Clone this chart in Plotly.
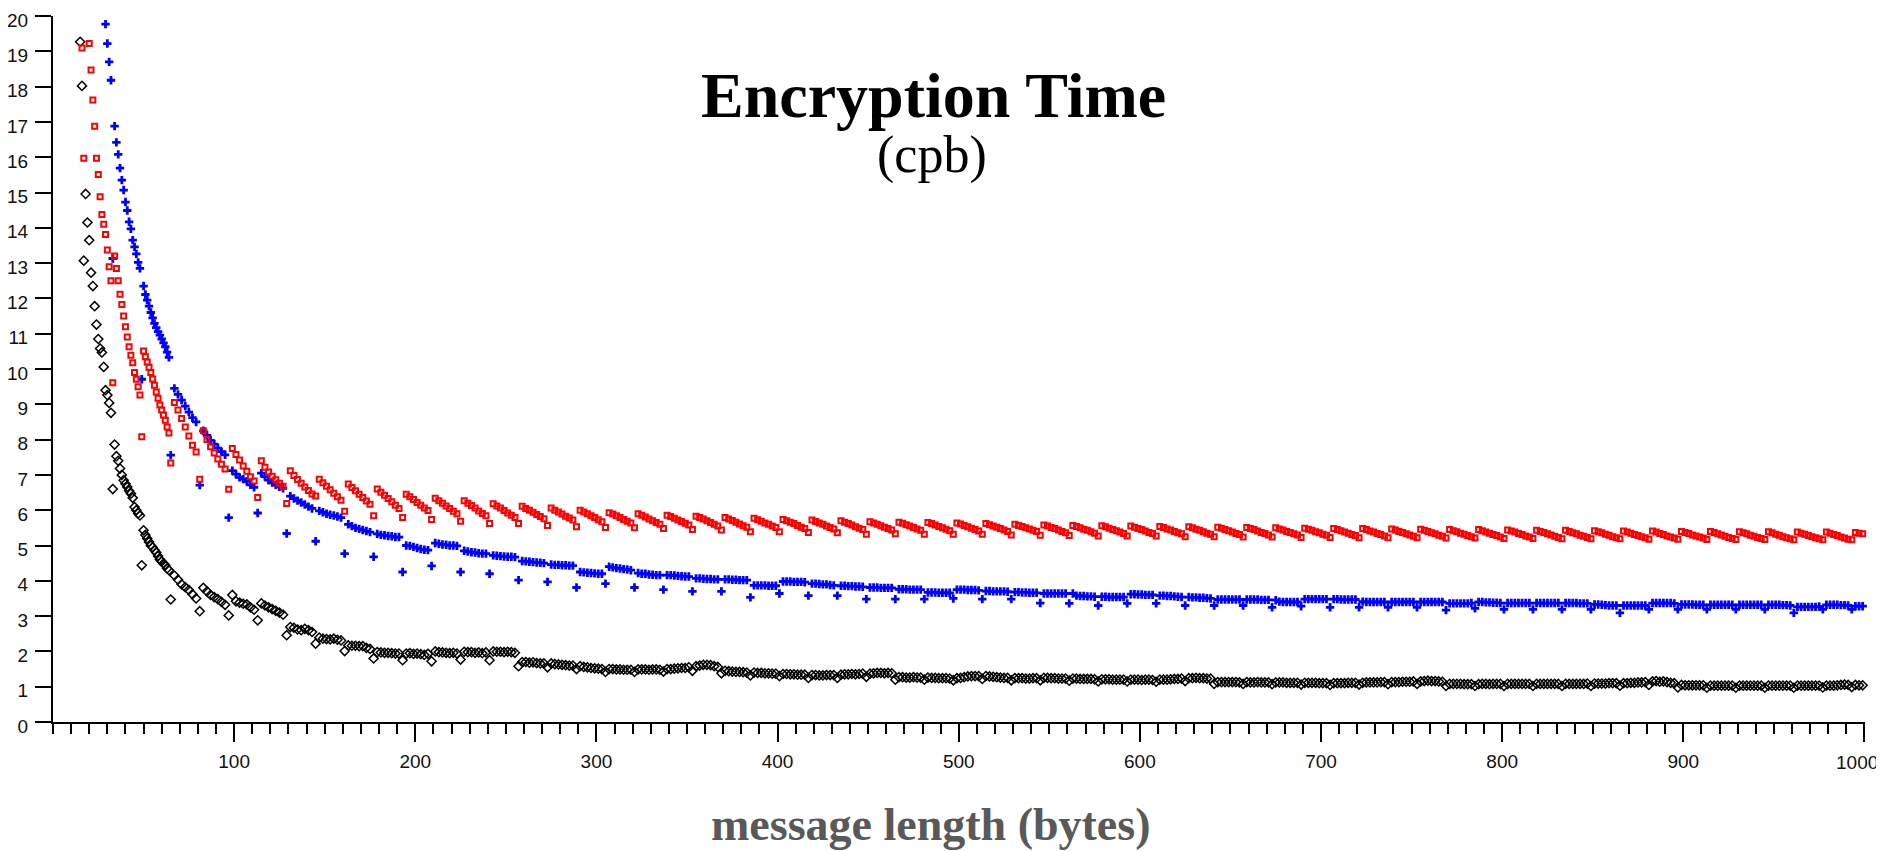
import plotly.graph_objects as go

# ---------------- data ----------------
# message lengths: every byte from 15 to 64, then odd bytes 65..999
len_early = list(range(15, 65))
len_late = list(range(65, 1000, 2))

N = None
red_early = [N, 19.09, 15.97, N, N, 19.22, 18.47, 17.62, 16.88, 15.97,
             15.51, 14.88, 14.38, 14.1, 13.81, 13.37, 12.9, 12.5, 9.61, 13.2,
             12.85, 12.5, 12.12, 11.83, 11.5, 11.2, 10.91, 10.63, 10.39, 10.18,
             9.9, 9.71, 9.5, 9.26, 8.08, 10.51, 10.35, 10.2, 10.05, 9.9,
             9.72, 9.54, 9.35, 9.17, 8.98, 8.84, 8.7, 8.55, 8.36, 8.19]
blue_early = [N, N, N, N, N, N, N, N, N, N,
              N, N, N, N, 19.77, 19.22, 18.7, 18.18, 13.13, 16.88,
              16.42, 16.08, 15.69, 15.35, 15.07, 14.73, 14.49, 14.17, 13.97, 13.65,
              13.46, 13.26, 13.02, 12.85, 9.71, 12.35, 12.11, 11.95, 11.78, 11.6,
              11.45, 11.29, 11.17, 11.06, 10.96, 10.85, 10.74, 10.63, 10.48, 10.33]
black_early = [19.27, 18.02, 13.07, 14.96, 14.15, 13.65, 12.73, 12.35, 11.78, 11.26,
               10.85, 10.58, 10.47, 10.06, 9.4, 9.26, 9.04, 8.76, 6.6, 7.86,
               7.53, 7.4, 7.18, 7.0, 6.85, 6.75, 6.66, 6.55, 6.47, 6.35,
               6.09, 6.0, 5.91, 5.85, 4.44, 5.43, 5.3, 5.2, 5.1, 5.0,
               4.95, 4.87, 4.8, 4.7, 4.6, 4.55, 4.49, 4.44, 4.35, 4.3]

# one row per 16-byte block: value at 16k+1 (dip), then 16k+3 ... 16k+15
red_blocks = [
    [7.34, 9.05, 8.84, 8.6, 8.36, 8.1, 7.84, 7.65],
    [6.88, 8.25, 8.0, 7.8, 7.62, 7.45, 7.3, 7.17],
    [6.59, 7.75, 7.58, 7.42, 7.25, 7.1, 6.95, 6.83],
    [6.36, 7.4, 7.22, 7.08, 6.96, 6.86, 6.76, 6.68],
    [6.19, 7.12, 6.98, 6.87, 6.76, 6.66, 6.56, 6.46],
    [6.4, 6.88, 6.78, 6.68, 6.58, 6.48, 6.38, 6.28],
    [5.97, 6.74, 6.64, 6.55, 6.45, 6.36, 6.26, 6.17],
    [5.84, 6.6, 6.51, 6.42, 6.33, 6.24, 6.14, 6.05],
    [5.79, 6.45, 6.38, 6.3, 6.22, 6.14, 6.06, 5.99],
    [5.74, 6.34, 6.27, 6.2, 6.12, 6.05, 5.97, 5.9],
    [5.69, 6.27, 6.2, 6.13, 6.06, 5.98, 5.91, 5.84],
    [5.62, 6.18, 6.12, 6.06, 5.99, 5.92, 5.86, 5.79],
    [5.62, 6.11, 6.05, 6.0, 5.94, 5.88, 5.82, 5.76],
    [5.57, 6.06, 6.0, 5.95, 5.89, 5.83, 5.78, 5.72],
    [5.53, 6.0, 5.95, 5.9, 5.84, 5.79, 5.73, 5.67],
    [5.51, 5.93, 5.89, 5.84, 5.79, 5.74, 5.69, 5.64],
    [5.5, 5.9, 5.86, 5.81, 5.75, 5.7, 5.65, 5.6],
    [5.48, 5.86, 5.82, 5.77, 5.72, 5.68, 5.63, 5.58],
    [5.45, 5.83, 5.79, 5.75, 5.7, 5.65, 5.6, 5.55],
    [5.44, 5.79, 5.75, 5.71, 5.66, 5.61, 5.56, 5.52],
    [5.39, 5.77, 5.73, 5.69, 5.64, 5.6, 5.55, 5.51],
    [5.39, 5.74, 5.7, 5.66, 5.62, 5.57, 5.52, 5.48],
    [5.37, 5.72, 5.68, 5.64, 5.6, 5.55, 5.51, 5.47],
    [5.36, 5.7, 5.66, 5.62, 5.58, 5.53, 5.49, 5.45],
    [5.32, 5.67, 5.64, 5.6, 5.56, 5.52, 5.48, 5.44],
    [5.33, 5.66, 5.63, 5.59, 5.55, 5.51, 5.47, 5.43],
    [5.32, 5.65, 5.62, 5.58, 5.54, 5.5, 5.46, 5.42],
    [5.32, 5.64, 5.61, 5.57, 5.53, 5.49, 5.45, 5.41],
    [5.32, 5.62, 5.59, 5.55, 5.52, 5.48, 5.44, 5.4],
    [5.3, 5.6, 5.57, 5.54, 5.5, 5.47, 5.43, 5.4],
    [5.29, 5.58, 5.55, 5.51, 5.48, 5.44, 5.4, 5.36],
    [5.28, 5.57, 5.54, 5.5, 5.46, 5.43, 5.39, 5.35],
    [5.27, 5.56, 5.53, 5.49, 5.45, 5.42, 5.38, 5.34],
    [5.27, 5.55, 5.52, 5.48, 5.45, 5.41, 5.37, 5.34],
    [5.27, 5.54, 5.51, 5.47, 5.44, 5.4, 5.36, 5.33],
    [5.25, 5.53, 5.5, 5.46, 5.43, 5.39, 5.35, 5.32],
    [5.25, 5.52, 5.49, 5.45, 5.42, 5.38, 5.34, 5.31],
    [5.24, 5.51, 5.48, 5.45, 5.41, 5.37, 5.34, 5.3],
    [5.24, 5.5, 5.47, 5.44, 5.4, 5.37, 5.33, 5.3],
    [5.23, 5.49, 5.46, 5.43, 5.39, 5.36, 5.32, 5.29],
    [5.23, 5.48, 5.45, 5.42, 5.38, 5.35, 5.31, 5.28],
    [5.22, 5.48, 5.45, 5.41, 5.38, 5.34, 5.31, 5.27],
    [5.22, 5.47, 5.44, 5.4, 5.37, 5.33, 5.3, 5.26],
    [5.22, 5.46, 5.43, 5.4, 5.36, 5.33, 5.29, 5.26],
    [5.21, 5.45, 5.42, 5.39, 5.35, 5.32, 5.28, 5.25],
    [5.21, 5.45, 5.42, 5.38, 5.35, 5.31, 5.28, 5.24],
    [5.2, 5.44, 5.41, 5.38, 5.34, 5.31, 5.27, 5.24],
    [5.2, 5.43, 5.4, 5.37, 5.33, 5.3, 5.26, 5.23],
    [5.19, 5.43, 5.4, 5.36, 5.33, 5.29, 5.26, 5.23],
    [5.19, 5.42, 5.39, 5.36, 5.32, 5.29, 5.25, 5.22],
    [5.19, 5.41, 5.38, 5.35, 5.31, 5.28, 5.25, 5.22],
    [5.18, 5.41, 5.38, 5.34, 5.31, 5.27, 5.24, 5.21],
    [5.18, 5.4, 5.37, 5.34, 5.3, 5.27, 5.24, 5.21],
    [5.17, 5.4, 5.37, 5.33, 5.3, 5.26, 5.23, 5.2],
    [5.17, 5.39, 5.36, 5.33, 5.29, 5.26, 5.23, 5.2],
    [5.17, 5.39, 5.36, 5.32, 5.29, 5.25, 5.22, 5.19],
    [5.16, 5.38, 5.35, 5.32, 5.28, 5.25, 5.22, 5.19],
    [5.16, 5.38, 5.35, 5.31, 5.28, 5.24, 5.21, 5.18],
    [5.16, 5.37, 5.35, 5.33],
]

blue_blocks = [
    [7.56, 9.45, 9.28, 9.12, 8.95, 8.78, 8.62, 8.5],
    [6.71, 8.25, 8.12, 7.98, 7.87, 7.76, 7.66, 7.57],
    [5.79, 7.12, 7.02, 6.93, 6.88, 6.82, 6.72, 6.65],
    [5.92, 7.05, 6.95, 6.85, 6.78, 6.72, 6.66, 6.62],
    [5.34, 6.4, 6.33, 6.27, 6.22, 6.16, 6.1, 6.05],
    [5.12, 5.98, 5.94, 5.9, 5.87, 5.85, 5.82, 5.79],
    [4.77, 5.6, 5.55, 5.5, 5.47, 5.44, 5.41, 5.38],
    [4.68, 5.33, 5.3, 5.29, 5.27, 5.26, 5.24, 5.24],
    [4.25, 5.0, 4.99, 4.96, 4.93, 4.9, 4.88, 4.87],
    [4.42, 5.07, 5.05, 5.03, 5.02, 5.0, 5.0, 4.99],
    [4.25, 4.85, 4.83, 4.81, 4.8, 4.78, 4.77, 4.77],
    [4.2, 4.72, 4.71, 4.7, 4.69, 4.68, 4.68, 4.67],
    [4.02, 4.56, 4.55, 4.54, 4.53, 4.52, 4.51, 4.5],
    [3.97, 4.46, 4.45, 4.45, 4.44, 4.44, 4.43, 4.43],
    [3.81, 4.25, 4.24, 4.23, 4.22, 4.21, 4.2, 4.2],
    [3.92, 4.4, 4.38, 4.36, 4.35, 4.33, 4.32, 4.3],
    [3.81, 4.22, 4.2, 4.2, 4.18, 4.17, 4.16, 4.16],
    [3.75, 4.16, 4.16, 4.15, 4.14, 4.13, 4.12, 4.12],
    [3.7, 4.07, 4.07, 4.06, 4.05, 4.05, 4.04, 4.04],
    [3.7, 4.04, 4.04, 4.03, 4.03, 4.02, 4.02, 4.02],
    [3.53, 3.87, 3.87, 3.87, 3.87, 3.86, 3.86, 3.86],
    [3.64, 3.98, 3.98, 3.98, 3.97, 3.97, 3.97, 3.96],
    [3.58, 3.92, 3.92, 3.91, 3.9, 3.9, 3.88, 3.87],
    [3.58, 3.86, 3.86, 3.85, 3.85, 3.84, 3.84, 3.83],
    [3.48, 3.81, 3.81, 3.81, 3.8, 3.8, 3.8, 3.8],
    [3.48, 3.76, 3.76, 3.76, 3.75, 3.75, 3.75, 3.75],
    [3.48, 3.67, 3.67, 3.67, 3.66, 3.66, 3.66, 3.66],
    [3.5, 3.75, 3.75, 3.75, 3.74, 3.74, 3.74, 3.73],
    [3.48, 3.71, 3.71, 3.7, 3.7, 3.7, 3.7, 3.69],
    [3.48, 3.68, 3.68, 3.67, 3.67, 3.66, 3.66, 3.66],
    [3.37, 3.64, 3.64, 3.64, 3.64, 3.64, 3.64, 3.64],
    [3.36, 3.64, 3.58, 3.57, 3.57, 3.56, 3.56, 3.55],
    [3.3, 3.55, 3.55, 3.54, 3.54, 3.54, 3.54, 3.54],
    [3.36, 3.62, 3.62, 3.61, 3.61, 3.6, 3.6, 3.6],
    [3.36, 3.58, 3.58, 3.57, 3.57, 3.56, 3.55, 3.54],
    [3.3, 3.54, 3.53, 3.53, 3.52, 3.52, 3.51, 3.5],
    [3.3, 3.47, 3.47, 3.47, 3.47, 3.47, 3.47, 3.47],
    [3.3, 3.47, 3.47, 3.47, 3.47, 3.46, 3.46, 3.46],
    [3.25, 3.45, 3.41, 3.4, 3.4, 3.4, 3.4, 3.4],
    [3.28, 3.48, 3.48, 3.48, 3.48, 3.48, 3.48, 3.48],
    [3.25, 3.48, 3.48, 3.47, 3.47, 3.47, 3.47, 3.47],
    [3.25, 3.41, 3.4, 3.4, 3.4, 3.4, 3.4, 3.4],
    [3.25, 3.4, 3.4, 3.4, 3.4, 3.4, 3.4, 3.4],
    [3.25, 3.4, 3.4, 3.4, 3.4, 3.4, 3.4, 3.4],
    [3.17, 3.36, 3.36, 3.36, 3.36, 3.36, 3.36, 3.37],
    [3.22, 3.4, 3.4, 3.39, 3.39, 3.38, 3.38, 3.37],
    [3.19, 3.37, 3.37, 3.37, 3.37, 3.37, 3.37, 3.37],
    [3.19, 3.37, 3.37, 3.37, 3.37, 3.37, 3.37, 3.37],
    [3.19, 3.37, 3.37, 3.37, 3.37, 3.36, 3.36, 3.36],
    [3.19, 3.33, 3.33, 3.32, 3.31, 3.3, 3.3, 3.3],
    [3.09, 3.3, 3.3, 3.3, 3.3, 3.3, 3.3, 3.3],
    [3.19, 3.37, 3.37, 3.37, 3.37, 3.37, 3.37, 3.36],
    [3.19, 3.33, 3.33, 3.33, 3.33, 3.32, 3.32, 3.32],
    [3.19, 3.32, 3.32, 3.32, 3.32, 3.32, 3.32, 3.32],
    [3.19, 3.32, 3.32, 3.32, 3.32, 3.32, 3.32, 3.32],
    [3.19, 3.32, 3.32, 3.32, 3.32, 3.31, 3.31, 3.3],
    [3.09, 3.26, 3.26, 3.26, 3.26, 3.26, 3.26, 3.27],
    [3.19, 3.32, 3.32, 3.32, 3.32, 3.31, 3.31, 3.3],
    [3.19, 3.28, 3.28, 3.28],
]

black_blocks = [
    [3.47, 4.15, 4.03, 3.9, 3.82, 3.74, 3.62, 3.5],
    [3.14, 3.8, 3.7, 3.6, 3.54, 3.48, 3.4, 3.32],
    [3.02, 3.6, 3.42, 3.38, 3.35, 3.33, 3.25, 3.18],
    [2.88, 3.36, 3.3, 3.25, 3.2, 3.15, 3.1, 3.04],
    [2.46, 2.69, 2.67, 2.62, 2.6, 2.64, 2.6, 2.55],
    [2.22, 2.39, 2.36, 2.35, 2.34, 2.36, 2.33, 2.31],
    [2.01, 2.17, 2.16, 2.16, 2.15, 2.15, 2.1, 2.07],
    [1.8, 1.98, 1.97, 1.96, 1.96, 1.95, 1.94, 1.94],
    [1.75, 1.94, 1.95, 1.93, 1.94, 1.92, 1.9, 1.93],
    [1.72, 2.0, 1.98, 1.97, 1.96, 1.95, 1.96, 1.94],
    [1.77, 1.99, 1.98, 1.98, 1.96, 1.97, 1.95, 1.97],
    [1.75, 2.0, 1.99, 1.99, 1.98, 1.99, 1.98, 1.96],
    [1.58, 1.7, 1.7, 1.68, 1.69, 1.67, 1.66, 1.66],
    [1.55, 1.66, 1.64, 1.63, 1.62, 1.61, 1.6, 1.6],
    [1.5, 1.58, 1.56, 1.55, 1.53, 1.52, 1.51, 1.5],
    [1.42, 1.5, 1.5, 1.49, 1.49, 1.48, 1.48, 1.48],
    [1.42, 1.49, 1.49, 1.49, 1.48, 1.49, 1.49, 1.48],
    [1.43, 1.5, 1.5, 1.51, 1.52, 1.53, 1.53, 1.55],
    [1.45, 1.58, 1.6, 1.62, 1.62, 1.61, 1.58, 1.56],
    [1.38, 1.45, 1.44, 1.43, 1.42, 1.42, 1.41, 1.4],
    [1.32, 1.4, 1.39, 1.39, 1.38, 1.38, 1.37, 1.37],
    [1.3, 1.36, 1.36, 1.35, 1.35, 1.34, 1.34, 1.34],
    [1.25, 1.33, 1.33, 1.32, 1.32, 1.33, 1.33, 1.33],
    [1.25, 1.34, 1.35, 1.35, 1.36, 1.35, 1.36, 1.37],
    [1.28, 1.37, 1.38, 1.39, 1.39, 1.38, 1.39, 1.38],
    [1.2, 1.27, 1.27, 1.26, 1.26, 1.27, 1.26, 1.26],
    [1.2, 1.26, 1.25, 1.25, 1.24, 1.24, 1.24, 1.23],
    [1.18, 1.24, 1.25, 1.27, 1.29, 1.3, 1.3, 1.3],
    [1.22, 1.3, 1.29, 1.28, 1.27, 1.26, 1.25, 1.25],
    [1.18, 1.24, 1.24, 1.24, 1.23, 1.23, 1.24, 1.24],
    [1.18, 1.25, 1.25, 1.24, 1.24, 1.23, 1.23, 1.23],
    [1.17, 1.23, 1.23, 1.22, 1.22, 1.22, 1.22, 1.21],
    [1.15, 1.21, 1.21, 1.21, 1.2, 1.2, 1.2, 1.2],
    [1.15, 1.2, 1.2, 1.2, 1.19, 1.2, 1.2, 1.19],
    [1.14, 1.2, 1.2, 1.2, 1.21, 1.22, 1.22, 1.23],
    [1.16, 1.24, 1.24, 1.25, 1.24, 1.24, 1.23, 1.23],
    [1.08, 1.13, 1.13, 1.13, 1.13, 1.13, 1.13, 1.12],
    [1.08, 1.13, 1.12, 1.12, 1.13, 1.12, 1.12, 1.12],
    [1.07, 1.12, 1.12, 1.12, 1.11, 1.11, 1.11, 1.11],
    [1.06, 1.11, 1.11, 1.11, 1.11, 1.1, 1.1, 1.1],
    [1.05, 1.1, 1.1, 1.1, 1.1, 1.11, 1.11, 1.11],
    [1.06, 1.11, 1.12, 1.12, 1.12, 1.12, 1.13, 1.13],
    [1.07, 1.13, 1.13, 1.13, 1.14, 1.14, 1.14, 1.15],
    [1.08, 1.15, 1.16, 1.17, 1.16, 1.16, 1.15, 1.14],
    [1.02, 1.08, 1.08, 1.08, 1.08, 1.07, 1.07, 1.07],
    [1.02, 1.07, 1.08, 1.08, 1.07, 1.08, 1.08, 1.08],
    [1.02, 1.08, 1.08, 1.08, 1.08, 1.08, 1.08, 1.08],
    [1.02, 1.08, 1.08, 1.08, 1.08, 1.08, 1.08, 1.08],
    [1.02, 1.08, 1.08, 1.08, 1.08, 1.08, 1.08, 1.09],
    [1.02, 1.09, 1.09, 1.09, 1.09, 1.1, 1.1, 1.1],
    [1.03, 1.1, 1.1, 1.11, 1.11, 1.12, 1.12, 1.13],
    [1.05, 1.15, 1.16, 1.14, 1.15, 1.13, 1.11, 1.1],
    [0.98, 1.05, 1.04, 1.04, 1.04, 1.04, 1.04, 1.04],
    [0.97, 1.03, 1.03, 1.03, 1.03, 1.03, 1.03, 1.03],
    [0.97, 1.03, 1.03, 1.03, 1.03, 1.03, 1.03, 1.03],
    [0.97, 1.03, 1.03, 1.03, 1.03, 1.03, 1.03, 1.03],
    [0.97, 1.03, 1.03, 1.03, 1.03, 1.03, 1.03, 1.03],
    [0.98, 1.03, 1.03, 1.03, 1.04, 1.05, 1.06, 1.05],
    [0.99, 1.05, 1.04, 1.04],
]

x_tick_vals = [100, 200, 300, 400, 500, 600, 700, 800, 900, 1000]
x_tick_text = ["100", "200", "300", "400", "500", "600", "700", "800", "900", ""]
last_x_label = "1000"   # drawn right-aligned so it is not cut at the window edge
y_tick_vals = list(range(0, 21))


def flatten(rows):
    return [v for row in rows for v in row]


msg_len = len_early + len_late
red_cpb = red_early + flatten(red_blocks)
blue_cpb = blue_early + flatten(blue_blocks)
black_cpb = black_early + flatten(black_blocks)
for s in (red_cpb, blue_cpb, black_cpb):
    assert len(s) == len(msg_len), (len(s), len(msg_len))

# ---------------- figure ----------------
fig = go.Figure()
fig.add_trace(go.Scatter(
    x=msg_len, y=black_cpb, mode="markers", cliponaxis=False,
    marker=dict(symbol="diamond-open", size=7, color="#000000",
                line=dict(width=1.5, color="#000000")),
    hoverinfo="x+y"))
fig.add_trace(go.Scatter(
    x=msg_len, y=blue_cpb, mode="markers", cliponaxis=False,
    marker=dict(symbol="cross", size=7, color="#0000FF",
                line=dict(width=0)),
    hoverinfo="x+y"))
fig.add_trace(go.Scatter(
    x=msg_len, y=red_cpb, mode="markers", cliponaxis=False,
    marker=dict(symbol="square-open", size=5, color="#FF0000",
                line=dict(width=2, color="#FF0000")),
    hoverinfo="x+y"))

TICK_FAMILY = "Liberation Sans Narrow, Arial Narrow, Liberation Sans, sans-serif"
tick_font = dict(family=TICK_FAMILY, size=19, color="#111111")

# the page body adds an 8px offset, so the figure is 8px smaller than the window
fig.update_layout(
    width=1876, height=843,
    margin=dict(l=45, r=19, t=8, b=129, autoexpand=False),
    plot_bgcolor="white", paper_bgcolor="white",
    showlegend=False,
    xaxis=dict(
        range=[0, 1000.3], showgrid=False, zeroline=False, automargin=False,
        showline=True, linecolor="#000000", linewidth=2,
        tickmode="array", tickvals=x_tick_vals, ticktext=x_tick_text,
        ticks="outside", ticklen=18, tickwidth=2, tickcolor="#000000",
        tickfont=tick_font, ticklabelstandoff=3, ticklabeloverflow="allow",
        minor=dict(tickmode="linear", tick0=0, dtick=10, ticks="outside",
                   ticklen=10, tickwidth=2, tickcolor="#000000", showgrid=False),
    ),
    yaxis=dict(
        range=[0, 20], showgrid=False, zeroline=False, automargin=False,
        showline=True, linecolor="#000000", linewidth=2,
        tickmode="array", tickvals=y_tick_vals,
        ticktext=[str(v) for v in y_tick_vals],
        ticks="outside", ticklen=16, tickwidth=2, tickcolor="#000000",
        tickfont=tick_font, ticklabelstandoff=3, ticklabelshift=4,
        ticklabeloverflow="allow",
    ),
    annotations=[
        dict(text="<b>Encryption Time</b>", xref="paper", yref="paper",
             x=0.4857, y=0.887, xanchor="center", yanchor="middle",
             showarrow=False,
             font=dict(family="Liberation Serif, Times New Roman, serif", size=64, color="#000000")),
        dict(text="(cpb)", xref="paper", yref="paper",
             x=0.4851, y=0.8035, xanchor="center", yanchor="middle",
             showarrow=False,
             font=dict(family="Liberation Serif, Times New Roman, serif", size=52, color="#000000")),
        dict(text="<b>message length (bytes)</b>", xref="paper", yref="paper",
             x=0.4845, y=-0.145, xanchor="center", yanchor="middle",
             showarrow=False,
             font=dict(family="Liberation Serif, Times New Roman, serif", size=46, color="#595959")),
        dict(text=last_x_label, xref="paper", yref="paper",
             x=1.0085, y=-0.057, xanchor="right", yanchor="middle",
             showarrow=False, font=tick_font),
    ],
)

fig.write_html("out.html")
